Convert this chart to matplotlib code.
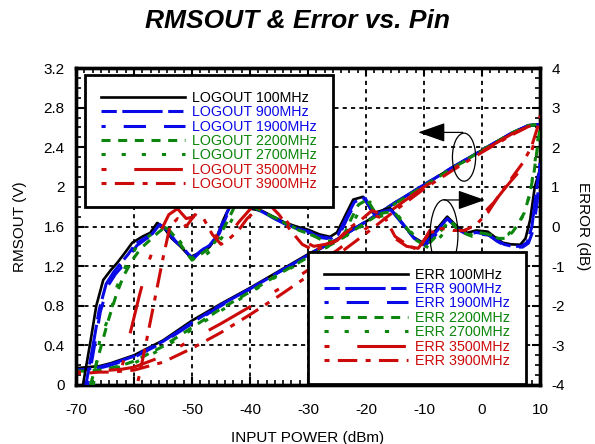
import matplotlib
matplotlib.use("Agg")
import matplotlib.pyplot as plt
from matplotlib.ticker import MultipleLocator, AutoMinorLocator
from matplotlib.patches import Ellipse

plt.rcParams['font.family'] = ['Liberation Sans', 'DejaVu Sans']
plt.rcParams['lines.scale_dashes'] = False
plt.rcParams['axes.unicode_minus'] = False

# ---- data ----
pin_log = [-70, -68, -66, -64, -62, -60, -55, -50, -45, -40, -35, -30, -25, -20, -15, -10, -5, 0, 5, 8, 10]
log_100 = [0.17, 0.18, 0.19, 0.22, 0.26, 0.30, 0.45, 0.65, 0.82, 0.98, 1.15, 1.32, 1.47, 1.65, 1.84, 2.02, 2.20, 2.37, 2.54, 2.62, 2.63]
log_900 = [0.15, 0.16, 0.18, 0.21, 0.25, 0.29, 0.44, 0.63, 0.81, 0.97, 1.14, 1.31, 1.47, 1.65, 1.84, 2.02, 2.20, 2.37, 2.54, 2.62, 2.63]
log_1900 = [0.15, 0.16, 0.17, 0.20, 0.24, 0.28, 0.43, 0.62, 0.80, 0.97, 1.14, 1.31, 1.47, 1.65, 1.84, 2.02, 2.20, 2.37, 2.54, 2.62, 2.63]
log_2200 = [0.14, 0.14, 0.15, 0.17, 0.20, 0.24, 0.39, 0.58, 0.77, 0.94, 1.12, 1.29, 1.45, 1.64, 1.83, 2.01, 2.19, 2.37, 2.54, 2.62, 2.63]
log_2700 = [0.13, 0.13, 0.14, 0.16, 0.19, 0.22, 0.37, 0.56, 0.75, 0.93, 1.11, 1.28, 1.45, 1.63, 1.83, 2.01, 2.19, 2.36, 2.54, 2.62, 2.63]
log_3500 = [0.13, 0.13, 0.14, 0.15, 0.16, 0.18, 0.29, 0.46, 0.62, 0.79, 0.97, 1.16, 1.36, 1.58, 1.79, 2.00, 2.18, 2.36, 2.53, 2.61, 2.62]
log_3900 = [0.12, 0.12, 0.13, 0.13, 0.14, 0.15, 0.23, 0.37, 0.53, 0.71, 0.90, 1.10, 1.31, 1.53, 1.76, 1.98, 2.17, 2.35, 2.52, 2.61, 2.62]

pin_e100 = [-68.8, -67.5, -66.5, -65.3, -64, -62.9, -61.5, -60.3, -58.5, -57.2, -56, -55, -53.5, -52, -50.3, -48.5,
            -47, -45.7, -44.5, -43, -41.5, -40, -38, -36, -34, -32, -30, -28, -26.2, -25, -23.5, -22.2, -20.5, -18.8,
            -17.3, -15.9, -13.8, -11.9, -10.2, -8, -6, -4.3, -2.6, -1, 1, 2.5, 3.6, 5, 6.6, 7.5, 8.3, 9.1, 10]
err_100 = [-4, -2.9, -2.0, -1.35, -1.1, -0.92, -0.65, -0.41, -0.25, -0.16, 0.09, 0.0, -0.3, -0.5, -0.77, -0.65,
           -0.52, -0.26, 0.2, 0.65, 0.7, 0.45, 0.4, 0.25, 0.1, 0.0, -0.08, -0.2, -0.26, -0.15, 0.3, 0.68, 0.75, 0.34,
           0.4, 0.47, 0.09, -0.26, -0.41, -0.1, 0.25, 0.0, -0.16, -0.1, -0.13, -0.3, -0.41, -0.45, -0.46, -0.3, 0.17, 1.0, 1.45]

pin_e900 = [-68.3, -67, -66, -64.8, -63.5, -62.4, -61, -59.8, -58, -56.8, -55.6, -54.6, -53, -51.5, -50, -48.5,
            -47, -45.5, -44.3, -42.8, -41.3, -40, -38, -36, -34, -32, -30, -28, -26, -24.8, -23.3, -22, -20.3, -18.6,
            -17.1, -15.7, -13.6, -11.7, -10, -8, -6, -4.3, -2.5, -1, 1, 2.5, 3.8, 5.2, 6.8, 7.8, 8.6, 9.3, 10]
err_900 = [-4, -2.95, -2.1, -1.45, -1.15, -0.95, -0.7, -0.45, -0.28, -0.18, 0.05, -0.05, -0.35, -0.55, -0.8, -0.62,
           -0.48, -0.2, 0.25, 0.7, 0.72, 0.5, 0.38, 0.22, 0.08, -0.05, -0.12, -0.25, -0.3, -0.2, 0.25, 0.62, 0.72, 0.3,
           0.38, 0.42, 0.05, -0.3, -0.45, -0.15, 0.2, -0.05, -0.2, -0.15, -0.2, -0.35, -0.45, -0.5, -0.5, -0.4, 0.0, 0.8, 1.6]

pin_e1900 = [-68, -66.8, -65.8, -64.5, -63.2, -62, -60.7, -59.5, -57.8, -56.5, -55.3, -54.3, -52.8, -51.3, -49.8, -48.3,
             -46.8, -45.3, -44, -42.6, -41.2, -39.8, -37.8, -35.8, -33.8, -31.8, -29.8, -27.8, -25.8, -24.6, -23.2, -21.8,
             -20.1, -18.4, -17, -15.5, -13.4, -11.5, -9.8, -7.8, -5.8, -4.1, -2.3, -0.8, 1.2, 2.7, 4, 5.4, 7, 8, 8.8, 9.5, 10]
err_1900 = [-4, -3.0, -2.15, -1.5, -1.2, -1.0, -0.72, -0.48, -0.3, -0.2, 0.02, -0.08, -0.38, -0.58, -0.82, -0.6,
            -0.45, -0.18, 0.28, 0.68, 0.7, 0.48, 0.36, 0.2, 0.05, -0.08, -0.15, -0.28, -0.32, -0.22, 0.22, 0.6, 0.7, 0.28,
            0.36, 0.4, 0.02, -0.32, -0.48, -0.18, 0.18, -0.08, -0.22, -0.18, -0.22, -0.38, -0.48, -0.52, -0.52, -0.42, -0.1, 0.6, 1.5]

pin_e2200 = [-67.5, -66, -64.5, -63, -61.8, -60.3, -58.8, -57.3, -55.8, -54.5, -53, -51.5, -50, -48.5, -47, -45.5,
             -44, -42.5, -41, -39.5, -37.5, -35.5, -33.5, -31.5, -29.5, -27.5, -25.5, -24, -22.7, -21.3, -19.8, -18.2,
             -16.7, -15.2, -13.2, -11.3, -9.6, -7.6, -5.6, -4, -2.2, -0.6, 1.3, 2.8, 4, 5.2, 6.2, 7.3, 8.2, 9, 10]
err_2200 = [-4, -3.2, -2.4, -1.7, -1.25, -0.85, -0.55, -0.35, -0.15, 0.0, -0.25, -0.55, -0.85, -0.7, -0.55, -0.3,
            0.1, 0.55, 0.7, 0.5, 0.35, 0.2, 0.05, -0.1, -0.2, -0.35, -0.38, -0.28, 0.15, 0.55, 0.68, 0.3,
            0.35, 0.38, 0.0, -0.35, -0.5, -0.2, 0.15, -0.1, -0.22, -0.15, -0.2, -0.3, -0.3, -0.15, 0.05, 0.35, 0.8, 1.4, 2.5]

pin_e2700 = [-67, -65.9, -64.1, -62.9, -61.2, -59.5, -58, -56.5, -55, -53.7, -52.2, -50.7, -49.2, -47.7, -46.2, -44.7,
             -43.2, -41.7, -40.2, -38.7, -36.7, -34.7, -32.7, -30.7, -28.7, -26.7, -25, -23.5, -22.2, -20.8, -19.3, -17.7,
             -16.2, -14.7, -12.7, -10.8, -9.1, -7.1, -5.1, -3.5, -1.7, 0, 1.8, 3.3, 4.5, 5.5, 6.3, 7.2, 7.8, 8.3, 9.1, 10]
err_2700 = [-4, -2.86, -2.2, -1.5, -0.92, -0.5, -0.3, -0.15, 0.0, -0.1, -0.35, -0.65, -0.9, -0.72, -0.55, -0.25,
            0.15, 0.55, 0.65, 0.45, 0.3, 0.15, 0.0, -0.15, -0.25, -0.4, -0.42, -0.3, 0.1, 0.5, 0.62, 0.25,
            0.3, 0.32, -0.05, -0.4, -0.55, -0.25, 0.1, -0.12, -0.25, -0.18, -0.22, -0.25, -0.2, -0.05, 0.09, 0.3, 0.6, 0.85, 1.6, 2.6]

pin_e3500 = [-62, -60.5, -59, -57.5, -56, -55, -54, -52.5, -51, -49.5, -48, -46.5, -45, -43.5, -42, -40.5, -39, -37,
             -35, -33, -31, -29, -27, -25, -23, -21, -19, -17, -15, -13, -11, -9, -7, -5, -3, -1, 1, 2, 3.6, 5, 6.5,
             8.3, 9.5, 10]
err_3500 = [-3.5, -2.6, -1.7, -0.9, -0.3, 0.0, 0.3, 0.45, 0.2, 0.25, 0.15, -0.1, -0.4, -0.2, 0.1, 0.35, 0.6, 0.8,
            0.4, 0.0, -0.35, -0.5, -0.45, -0.35, -0.1, 0.1, 0.3, 0.2, -0.3, -0.5, -0.55, -0.15, -0.1, -0.15, -0.1, 0.1,
            0.45, 0.6, 0.9, 1.15, 1.4, 1.76, 2.4, 2.8]

pin_e3900 = [-59.3, -58, -56.5, -55, -53.8, -52.5, -51, -49.5, -48, -46.5, -45, -43.5, -42, -40.5, -39, -37, -35,
             -33, -31, -29, -27, -25, -23, -21, -19, -17, -15, -13, -11, -9, -7, -5, -3, -1, 1, 3, 5, 7, 8.5, 10]
err_3900 = [-3.9, -3.0, -1.9, -0.8, 0.0, 0.2, 0.0, 0.3, 0.2, -0.2, -0.45, -0.3, -0.1, 0.2, 0.4, 0.6, 0.3,
            -0.1, -0.45, -0.6, -0.5, -0.35, -0.05, 0.15, 0.4, 0.3, -0.25, -0.45, -0.6, -0.1, -0.05, -0.1, -0.1, 0.05,
            0.35, 0.8, 1.2, 1.6, 2.0, 2.7]

freqs = ['100MHz', '900MHz', '1900MHz', '2200MHz', '2700MHz', '3500MHz', '3900MHz']

BLACK = 'black'
BLUE = '#0a0ae6'
GREEN = '#0b850b'
RED = '#cc0a0a'
colors = [BLACK, BLUE, BLUE, GREEN, GREEN, RED, RED]
styles = ['-', (0, (11, 4, 29, 4)), (13, (16, 13)), (0, (6.5, 5.5)), (0, (3, 11.5)),
          (0, (3.6, 20, 35, 20)), (0, (3.6, 6, 14, 6))]
widths = [1.9, 2.2, 2.2, 2.2, 2.2, 2.2, 2.2]

log_series = [log_100, log_900, log_1900, log_2200, log_2700, log_3500, log_3900]
err_pins = [pin_e100, pin_e900, pin_e1900, pin_e2200, pin_e2700, pin_e3500, pin_e3900]
err_series = [err_100, err_900, err_1900, err_2200, err_2700, err_3500, err_3900]

fig = plt.figure(figsize=(5.95, 4.44), dpi=100)
ax = fig.add_axes([0.1277, 0.1329, 0.7799, 0.7139])
ax2 = ax.twinx()

log_lines = []
for i in range(7):
    ln, = ax.plot(pin_log, log_series[i], color=colors[i], linestyle=styles[i], lw=widths[i],
                  label='LOGOUT ' + freqs[i], zorder=3)
    log_lines.append(ln)

err_lines = []
for i in range(7):
    ln, = ax2.plot(err_pins[i], err_series[i], color=colors[i], linestyle=styles[i], lw=widths[i],
                   label='ERR ' + freqs[i], zorder=3)
    err_lines.append(ln)

ax.set_xlim(-70, 10)
ax.set_ylim(0, 3.2)
ax2.set_ylim(-4, 4)
ax.xaxis.set_major_locator(MultipleLocator(10))
ax.xaxis.set_minor_locator(AutoMinorLocator(7))
ax.yaxis.set_major_locator(MultipleLocator(0.4))
ax.yaxis.set_minor_locator(AutoMinorLocator(4))
ax2.yaxis.set_major_locator(MultipleLocator(1))
ax2.yaxis.set_minor_locator(AutoMinorLocator(4))
ax.yaxis.set_major_formatter(plt.FuncFormatter(lambda v, p: '0' if abs(v) < 1e-9 else ('%g' % round(v, 1))))

ax.grid(True, which='major', color='black', linestyle=(0, (3, 3)), lw=1.3)
ax.set_axisbelow(True)

ax.tick_params(which='both', direction='in', top=True, right=False, labelsize=11)
ax.tick_params(which='major', length=6, width=1.5, pad=8)
ax.tick_params(axis='x', which='major', pad=13)
ax.tick_params(which='minor', length=3.5, width=1.2)
ax2.tick_params(which='both', direction='in', labelsize=11)
ax2.tick_params(which='major', length=6, width=1.5, pad=8)
ax2.tick_params(which='minor', length=3.5, width=1.2)
for a in (ax, ax2):
    for sp in a.spines.values():
        sp.set_linewidth(2.4)

ax.set_xlabel('INPUT POWER (dBm)', fontsize=11, labelpad=10)
ax.set_ylabel('RMSOUT (V)', fontsize=11, labelpad=12)
ax2.set_ylabel('ERROR (dB)', fontsize=11, rotation=270, labelpad=18)
fig.suptitle('RMSOUT & Error vs. Pin', fontsize=19, fontweight='bold', fontstyle='italic', y=0.98)

# annotations: ellipses with arrows
e1 = Ellipse((-3.1, 2.30), 4.0, 0.485, fill=False, edgecolor='black', lw=0.9, transform=ax.transData, zorder=4)
ax2.add_patch(e1)
ax2.annotate('', xy=(-11.0, 2.55), xytext=(-3.3, 2.55), xycoords=ax.transData, textcoords=ax.transData,
             arrowprops=dict(arrowstyle='-|>,head_length=0.85,head_width=0.3', mutation_scale=20,
                             color='black', lw=0.9, shrinkA=0, shrinkB=0), zorder=4)
e2 = Ellipse((-6.55, -0.21), 4.8, 1.77, fill=False, edgecolor='black', lw=0.9, zorder=4)
ax2.add_patch(e2)
ax2.annotate('', xy=(0.5, 0.67), xytext=(-6.55, 0.67),
             arrowprops=dict(arrowstyle='-|>,head_length=0.85,head_width=0.3', mutation_scale=20,
                             color='black', lw=0.9, shrinkA=0, shrinkB=0), zorder=4)

leg_kw = dict(fontsize=10.3, handlelength=5.9, handletextpad=0.5, labelspacing=0.03, borderpad=1.1,
              fancybox=False, framealpha=1, edgecolor='black', labelcolor='linecolor', borderaxespad=0,
              loc='upper left')
leg1 = ax2.legend(handles=log_lines, bbox_to_anchor=(0.019, 0.978), bbox_transform=ax.transAxes, **leg_kw)
leg1.get_frame().set_linewidth(2)
leg1.set_zorder(10)
ax2.add_artist(leg1)
leg2 = ax2.legend(handles=err_lines, bbox_to_anchor=(0.5, 0.42), bbox_transform=ax.transAxes, **leg_kw)
leg2.get_frame().set_linewidth(2)
leg2.set_zorder(10)

fig.savefig('out.png', dpi=100)
